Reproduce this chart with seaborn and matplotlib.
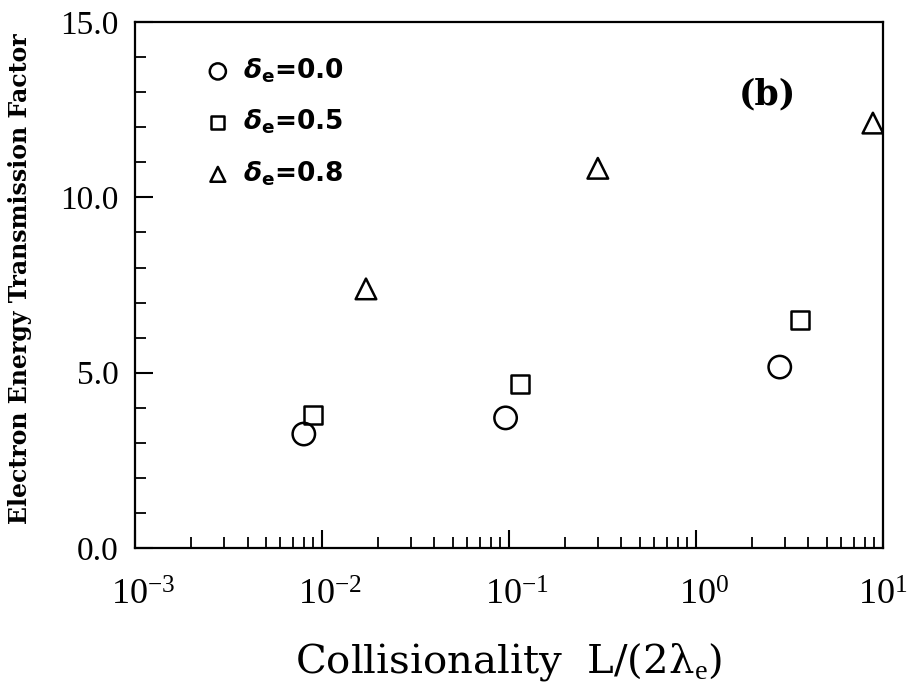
import matplotlib
matplotlib.use("Agg")
import matplotlib.pyplot as plt
import matplotlib.transforms as mtransforms
import seaborn as sns
import pandas as pd
import numpy as np
from matplotlib.ticker import LogLocator, MultipleLocator, FixedLocator, NullFormatter

# Data
delta_labels = [r"$\delta_{\mathbf{e}}$=0.0", r"$\delta_{\mathbf{e}}$=0.5", r"$\delta_{\mathbf{e}}$=0.8"]
x_d00 = [0.0080, 0.096, 2.81]
y_d00 = [3.25, 3.71, 5.16]
x_d05 = [0.0090, 0.115, 3.6]
y_d05 = [3.79, 4.68, 6.50]
x_d08 = [0.0172, 0.299, 8.85]
y_d08 = [7.39, 10.83, 12.12]

xtick_vals = [1e-3, 1e-2, 1e-1, 1e0, 1e1]
xtick_labels = [r"$\mathregular{10^{-3}}$", r"$\mathregular{10^{-2}}$", r"$\mathregular{10^{-1}}$",
                r"$\mathregular{10^{0}}$", r"$\mathregular{10^{1}}$"]
ytick_vals = [0.0, 5.0, 10.0, 15.0]
ytick_labels = ["0.0", "5.0", "10.0", "15.0"]

sns.set_style("ticks")
plt.rcParams["font.family"] = ["Liberation Serif", "DejaVu Serif"]
plt.rcParams["mathtext.fontset"] = "custom"
plt.rcParams["mathtext.rm"] = "Liberation Serif"
plt.rcParams["mathtext.it"] = "DejaVu Sans:italic:bold"
plt.rcParams["mathtext.bf"] = "DejaVu Sans:bold"
for k in ["text.color", "axes.labelcolor", "xtick.color", "ytick.color", "axes.edgecolor"]:
    plt.rcParams[k] = "black"

fig = plt.figure(figsize=(9.12, 6.91), dpi=100)
ax = fig.add_axes([0.148, 0.207, 0.820, 0.761])

series = [
    (x_d00, y_d00, "o", 260, delta_labels[0]),
    (x_d05, y_d05, "s", 165, delta_labels[1]),
    (x_d08, y_d08, "^", 220, delta_labels[2]),
]
for xs, ys, mk, sz, lab in series:
    df = pd.DataFrame({"x": xs, "y": ys})
    sns.scatterplot(data=df, x="x", y="y", marker=mk, s=sz, facecolors="none",
                    edgecolors="black", linewidths=1.8, ax=ax, label=lab)

ax.set_xscale("log")
ax.set_xlim(1e-3, 1e1)
ax.set_ylim(0, 15)

ax.xaxis.set_major_locator(FixedLocator(xtick_vals))
ax.set_xticklabels(xtick_labels)
ax.xaxis.set_minor_locator(LogLocator(base=10, subs=np.arange(2, 10)))
ax.xaxis.set_minor_formatter(NullFormatter())
ax.yaxis.set_major_locator(FixedLocator(ytick_vals))
ax.set_yticklabels(ytick_labels)
ax.yaxis.set_minor_locator(MultipleLocator(1.0))

ax.tick_params(axis="both", which="major", direction="in", length=13, width=1.5,
               top=False, right=False, colors="black")
ax.tick_params(axis="both", which="minor", direction="in", length=8, width=1.3,
               top=False, right=False)
ax.tick_params(axis="y", which="major", labelsize=24, pad=12)
ax.tick_params(axis="x", which="major", labelsize=26, pad=23)

# reference tick labels sit slightly right of their ticks (except the last, at the edge)
shift = mtransforms.ScaledTranslation(0.08, 0, fig.dpi_scale_trans)
for lbl in ax.get_xticklabels()[:-1]:
    lbl.set_transform(lbl.get_transform() + shift)

for sp in ax.spines.values():
    sp.set_visible(True)
    sp.set_linewidth(1.6)
    sp.set_color("black")

ax.set_xlabel("Collisionality  L/(2λ$_{\\mathrm{e}}$)", fontsize=29, family="DejaVu Serif",
              labelpad=20)
ax.set_ylabel("Electron Energy Transmission Factor", fontsize=17, fontweight="bold",
              family="DejaVu Serif")
ax.yaxis.set_label_coords(-0.138, 0.513)

ax.text(0.845, 0.862, "(b)", transform=ax.transAxes, fontsize=25, fontweight="bold",
        ha="center", va="center", family="DejaVu Serif")

leg = ax.legend(loc="upper left", bbox_to_anchor=(0.072, 0.965), frameon=False,
                markerscale=0.72, handletextpad=0.45, labelspacing=0.87,
                borderaxespad=0.2, handlelength=1.0,
                prop={"family": "DejaVu Sans", "weight": "bold", "size": 19})

fig.savefig("out.png", dpi=100, facecolor="white")
